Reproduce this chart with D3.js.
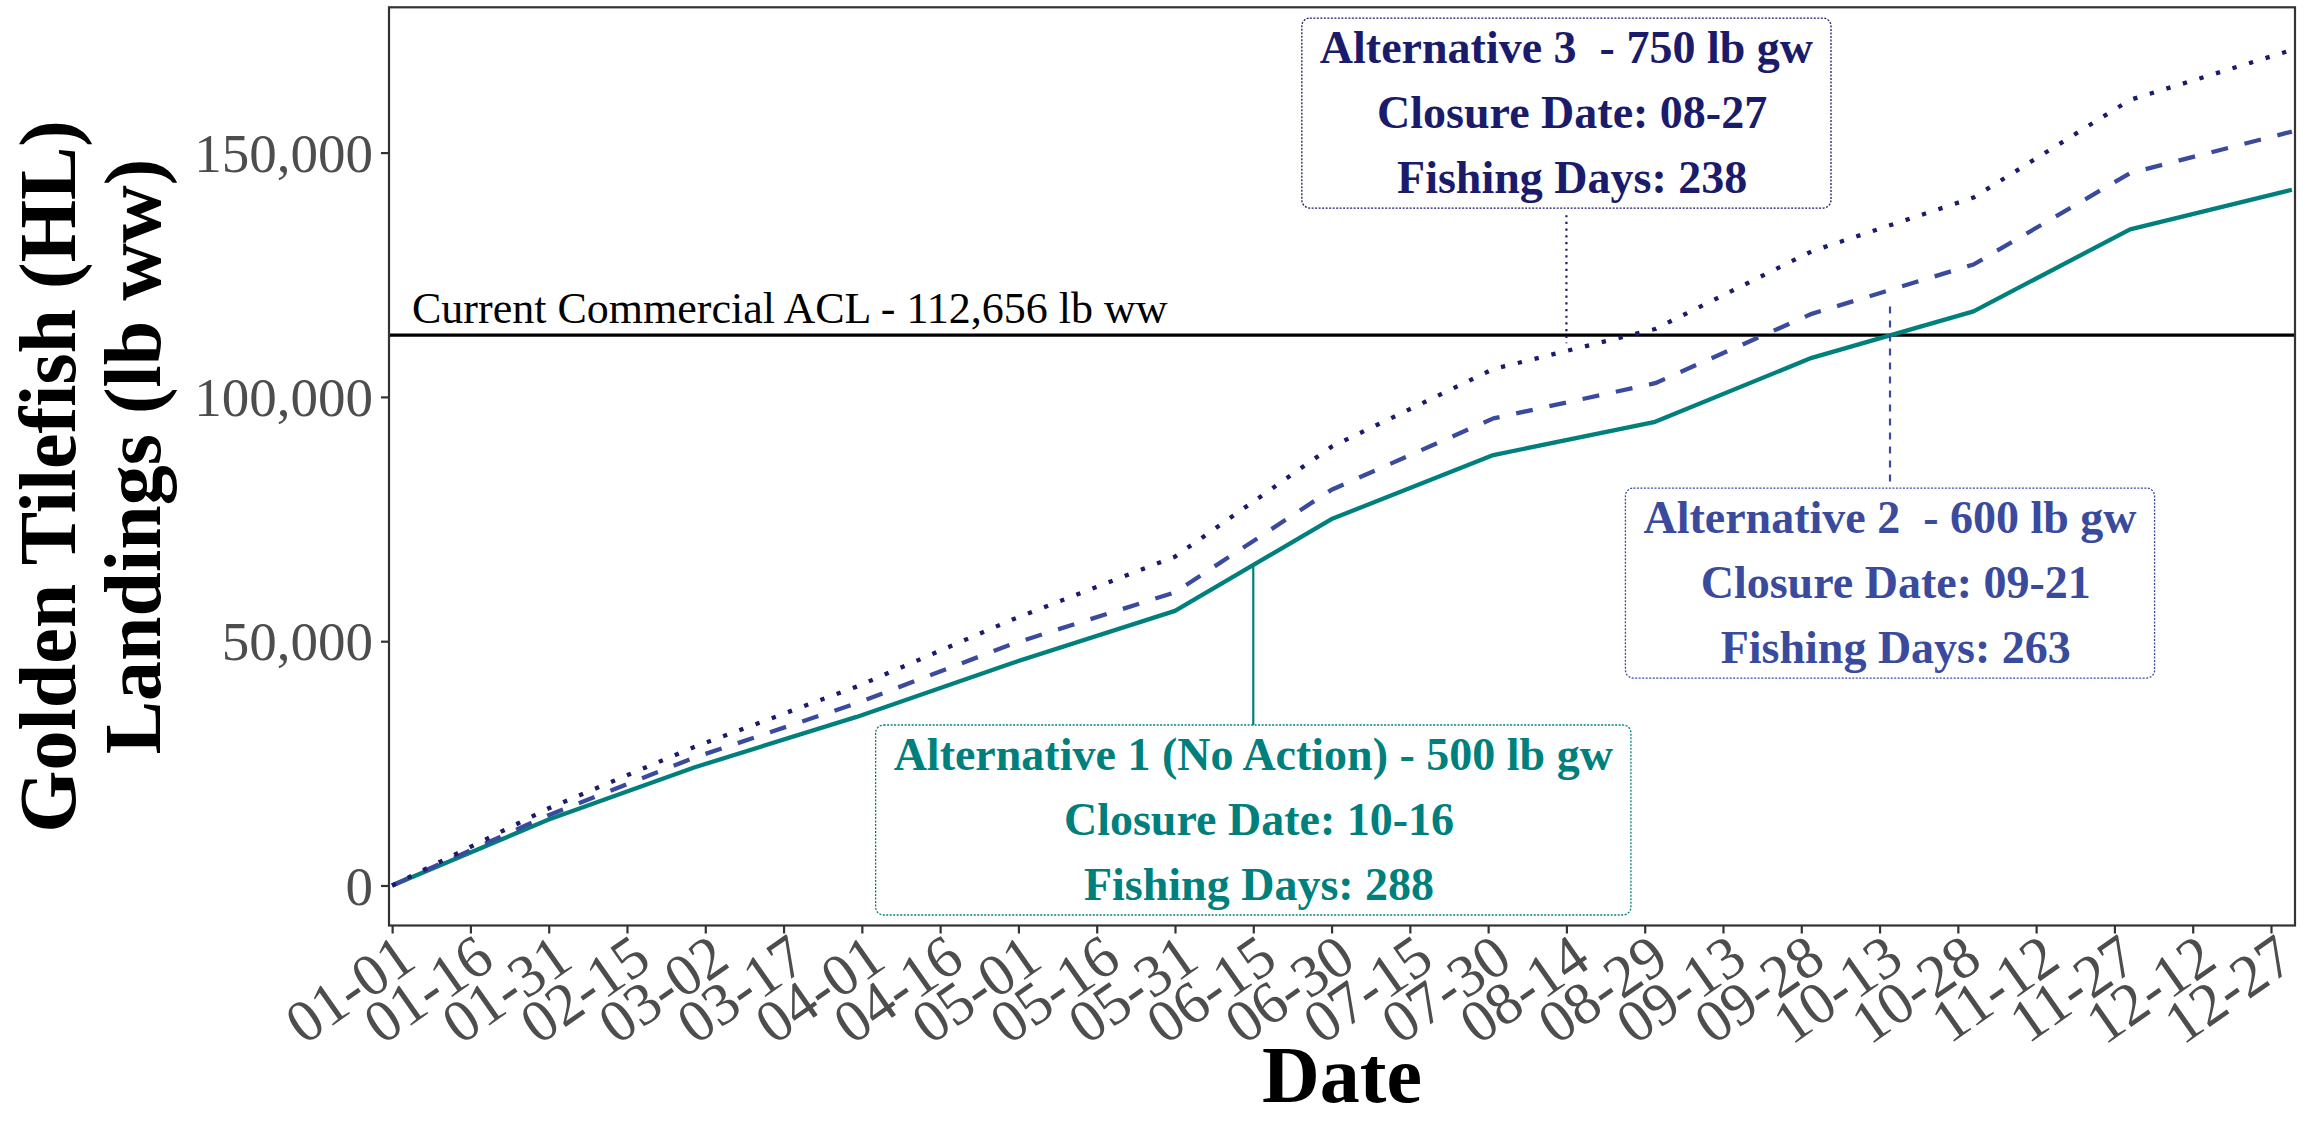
<!DOCTYPE html>
<html>
<head>
<meta charset="utf-8">
<script src="https://cdn.jsdelivr.net/npm/d3@7"></script>
<style>
  html, body { margin: 0; padding: 0; background: #fff; }
  svg text { font-family: "Liberation Serif", "Times New Roman", serif; white-space: pre; }
</style>
</head>
<body>
<svg id="chart" width="2310" height="1121"></svg>
<script>
// ---- data (cumulative landings, lb ww, at month ends) ----
const dates = ["01-01","01-31","02-28","03-31","04-30","05-31","06-30","07-31","08-31","09-30","10-31","11-30","12-31"];
const alt1 = [0, 13500, 24200, 34500, 45600, 56200, 75000, 88100, 94900, 108000, 117500, 134300, 142400];
const alt2 = [0, 14400, 26200, 37300, 49500, 60000, 81000, 95600, 102800, 117000, 127100, 145800, 154300];
const alt3 = [0, 15800, 28400, 40700, 54500, 67300, 89800, 105700, 113900, 129800, 140800, 160800, 171000];

const xTickLabels = ["01-01","01-16","01-31","02-15","03-02","03-17","04-01","04-16","05-01","05-16","05-31","06-15","06-30","07-15","07-30","08-14","08-29","09-13","09-28","10-13","10-28","11-12","11-27","12-12","12-27"];
const yTicks = [0, 50000, 100000, 150000];

const aclValue = 112656;
const aclLabel = "Current Commercial ACL - 112,656 lb ww";

// annotation boxes
const labelNames = ["alt1", "alt2", "alt3"];
const labelLines = [
  ["Alternative 1 (No Action) - 500 lb gw", " Closure Date: 10-16", " Fishing Days: 288"],
  ["Alternative 2  - 600 lb gw", " Closure Date: 09-21", " Fishing Days: 263"],
  ["Alternative 3  - 750 lb gw", " Closure Date: 08-27", " Fishing Days: 238"]
];
const labelDates = ["06-15", "10-15", "08-14"];
const labelValues = [13400, 61900, 158100];
const segDates = ["06-15", "10-15", "08-14"];
const segFrom = [65600, 118500, 137200];
const segTo = [32700, 81600, 111000];

// ---- styles ----
const colors = { alt1: "#00807C", alt2: "#3A4B9E", alt3: "#1B1B6C" };
const textColors = { alt1: "#00807C", alt2: "#3A4B9E", alt3: "#1B1B6C" };

const parseDay = s => {
  const t = d3.timeParse("%Y-%m-%d")("2023-" + s);
  return d3.timeDay.count(new Date(2023, 0, 1), t);
};

const svg = d3.select("#chart");
const panel = { left: 389, right: 2295, top: 7.3, bottom: 925.5 };

const x = d3.scaleLinear().domain([-0.6, 364.6]).range([panel.left, panel.right]);
const y = d3.scaleLinear().domain([-8190, 179740]).range([panel.bottom, panel.top]);

// panel background
svg.append("rect").attr("x", panel.left).attr("y", panel.top)
  .attr("width", panel.right - panel.left).attr("height", panel.bottom - panel.top)
  .attr("fill", "#fff");

// axes
const xAxis = d3.axisBottom(x)
  .tickValues(xTickLabels.map(parseDay))
  .tickFormat((d, i) => xTickLabels[i])
  .tickSize(8).tickSizeOuter(0);
const gx = svg.append("g").attr("transform", `translate(0,${panel.bottom})`).call(xAxis);
gx.select(".domain").remove();
gx.selectAll(".tick line").attr("stroke", "#333").attr("stroke-width", 2.2);
gx.selectAll(".tick text")
  .attr("fill", "#4D4D4D").attr("font-size", 60)
  .attr("text-anchor", "end")
  .attr("y", 0).attr("dy", 0)
  .attr("transform", "translate(26,40) rotate(-35)");

const yAxis = d3.axisLeft(y).tickValues(yTicks).tickFormat(d3.format(",")).tickSize(8).tickSizeOuter(0);
const gy = svg.append("g").attr("transform", `translate(${panel.left},0)`).call(yAxis);
gy.select(".domain").remove();
gy.selectAll(".tick line").attr("stroke", "#333").attr("stroke-width", 2.2);
gy.selectAll(".tick text").attr("fill", "#4D4D4D").attr("font-size", 55)
  .attr("x", -16).attr("dy", "0.34em");

// ACL line + label
svg.append("line").attr("x1", panel.left).attr("x2", panel.right)
  .attr("y1", y(aclValue)).attr("y2", y(aclValue))
  .attr("stroke", "#000").attr("stroke-width", 3.2);
svg.append("text").attr("x", 412).attr("y", y(aclValue) - 12)
  .attr("font-size", 44).attr("fill", "#000").text(aclLabel);

// data lines
const line = d3.line().x(d => x(d[0])).y(d => y(d[1]));
const days = dates.map(parseDay);
const series = [
  { key: "alt1", vals: alt1, dash: null },
  { key: "alt2", vals: alt2, dash: "17,17" },
  { key: "alt3", vals: alt3, dash: "4.3,13" }
];
series.forEach(s => {
  svg.append("path")
    .datum(days.map((d, i) => [d, s.vals[i]]))
    .attr("d", line)
    .attr("fill", "none")
    .attr("stroke", colors[s.key])
    .attr("stroke-width", 4.3)
    .attr("stroke-linejoin", "round")
    .attr("stroke-dasharray", s.dash);
});

// annotation segments
const segDash = { alt1: null, alt2: "7,7", alt3: "2.2,4.5" };
labelNames.forEach((k, i) => {
  const sx = x(parseDay(segDates[i]));
  svg.append("line").attr("x1", sx).attr("x2", sx)
    .attr("y1", y(segFrom[i])).attr("y2", y(segTo[i]))
    .attr("stroke", colors[k]).attr("stroke-width", 2.2)
    .attr("stroke-dasharray", segDash[k]);
});

// annotation labels
labelNames.forEach((k, i) => {
  const cx = x(parseDay(labelDates[i]));
  const cy = y(labelValues[i]);
  const top = cy - 95, bottom = cy + 95;
  const g = svg.append("g");
  const box = g.append("rect");
  const t = g.append("text").attr("font-size", 46).attr("font-weight", "bold")
    .attr("fill", textColors[k]).attr("text-anchor", "middle");
  labelLines[i].forEach((ln, j) => {
    t.append("tspan").attr("x", cx).attr("y", top + 45 + j * 65).text(ln);
  });
  const bb = t.node().getBBox();
  const w = bb.width + 36;
  box.attr("x", cx - w / 2).attr("y", top).attr("width", w).attr("height", bottom - top)
    .attr("rx", 8).attr("ry", 8)
    .attr("fill", "#fff").attr("stroke", colors[k]).attr("stroke-width", 1.3)
    .attr("stroke-dasharray", "2,1.5");
});

// panel border
svg.append("rect").attr("x", panel.left).attr("y", panel.top)
  .attr("width", panel.right - panel.left).attr("height", panel.bottom - panel.top)
  .attr("fill", "none").attr("stroke", "#333").attr("stroke-width", 2.2);

// axis titles
svg.append("text").attr("x", (panel.left + panel.right) / 2).attr("y", 1102)
  .attr("text-anchor", "middle").attr("font-size", 80).attr("font-weight", "bold")
  .attr("fill", "#000").text("Date");

const midY = (panel.top + panel.bottom) / 2;
svg.append("text").attr("font-size", 80).attr("font-weight", "bold").attr("fill", "#000")
  .attr("text-anchor", "middle")
  .attr("transform", `translate(75,${midY}) rotate(-90)`)
  .text("Golden Tilefish (HL) ");
svg.append("text").attr("font-size", 80).attr("font-weight", "bold").attr("fill", "#000")
  .attr("text-anchor", "middle")
  .attr("transform", `translate(160,${midY}) rotate(-90)`)
  .text(" Landings (lb ww)");
</script>
</body>
</html>
